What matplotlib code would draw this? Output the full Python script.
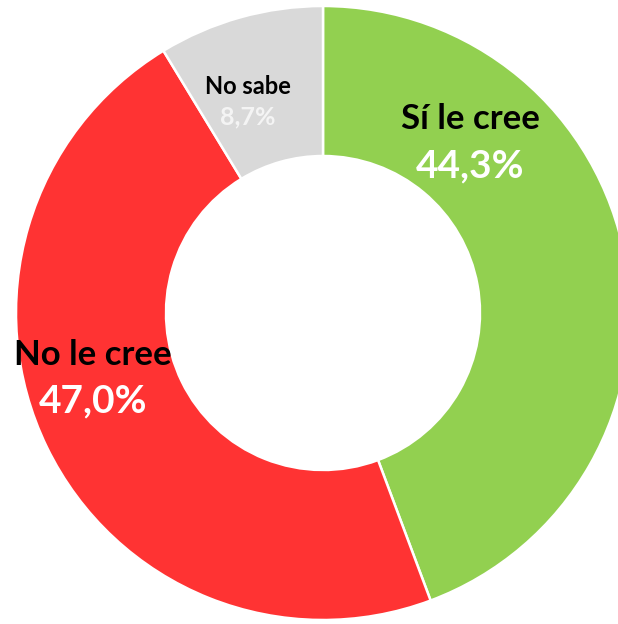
import matplotlib
matplotlib.use("Agg")
import matplotlib.pyplot as plt

# data
labels = ["Sí le cree", "No le cree", "No sabe"]
values = [44.3, 47.0, 8.7]
pct_text = ["44,3%", "47,0%", "8,7%"]
colors = ["#92D050", "#FF3333", "#D9D9D9"]

W, H = 618, 624
fig = plt.figure(figsize=(W / 100, H / 100), dpi=100)
ax = fig.add_axes([0, 0, 1, 1])

# donut in pixel coordinates (y counted from bottom)
cx, cy, r_out, r_in = 323, H - 313, 307, 157
ax.pie(values, colors=colors, startangle=90, counterclock=False,
       radius=r_out, center=(cx, cy),
       wedgeprops=dict(width=r_out - r_in, edgecolor="white", linewidth=1.8))
ax.set_xlim(0, W)
ax.set_ylim(0, H)
ax.set_aspect("auto")
ax.axis("off")

fam = ["Lato", "DejaVu Sans"]
# label positions (pixel, from top) and sizes
name_pos = [(470, 119), (93, 355), (248, 87)]
pct_pos = [(470, 166), (93, 401), (248, 117)]
name_sizes = [25, 25, 17]
pct_sizes = [28, 28, 18]
pct_colors = ["white", "white", "#F4F4F4"]

for i in range(len(labels)):
    x, y = name_pos[i]
    ax.text(x, H - y, labels[i], ha="center", va="center", fontsize=name_sizes[i],
            fontweight="bold", color="black", family=fam)
    x, y = pct_pos[i]
    ax.text(x, H - y, pct_text[i], ha="center", va="center", fontsize=pct_sizes[i],
            fontweight="bold", color=pct_colors[i], family=fam)

fig.savefig("out.png", dpi=100)
